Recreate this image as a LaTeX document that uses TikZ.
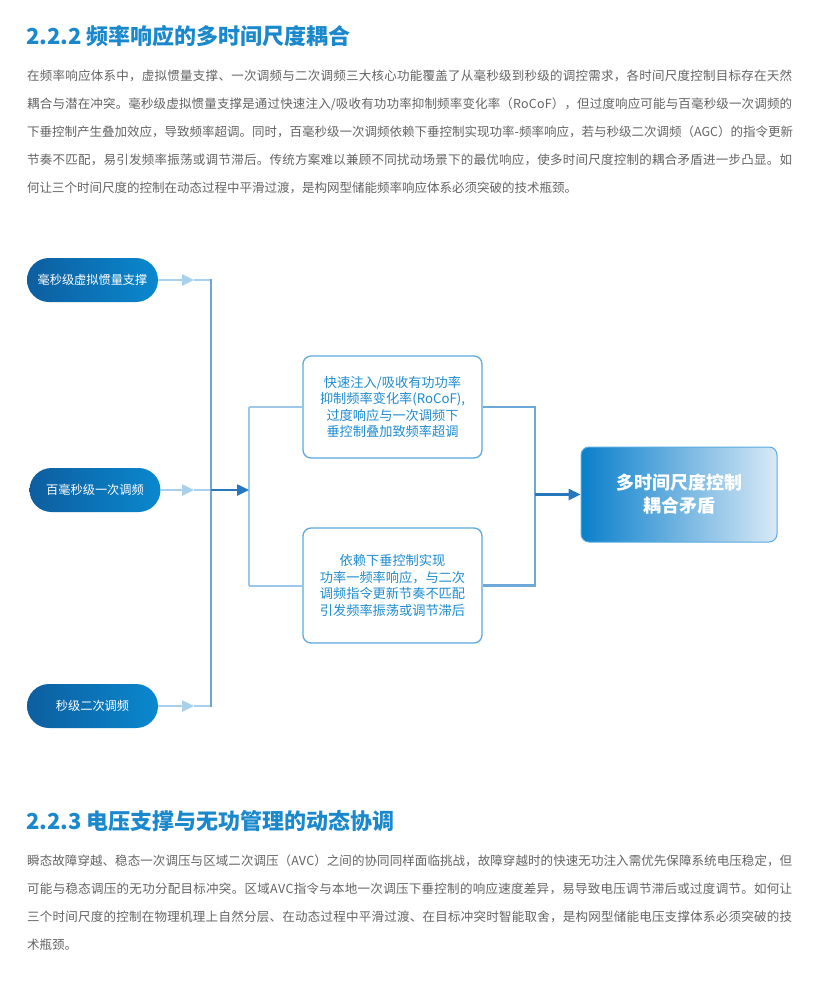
\documentclass[tikz,border=0pt]{standalone}
\usepackage{fontspec}
\setmainfont{Noto Sans CJK SC}
\usetikzlibrary{arrows.meta}
\makeatletter
\newcommand\jline[1]{\hbox to 765pt{\@tfor\jtok:=#1\do{\jtok\hskip 0pt plus 1pt}\unskip}}
\makeatother
\definecolor{headblue}{HTML}{1A88CC}
\definecolor{paragray}{HTML}{636363}
\definecolor{pillL}{HTML}{0D5E9F}
\definecolor{pillR}{HTML}{0A88CF}
\definecolor{boxline}{HTML}{5AAAE0}
\definecolor{boxtext}{HTML}{1F8CD0}
\definecolor{paleline}{HTML}{A9D0EC}
\definecolor{midline}{HTML}{6EA8D8}
\definecolor{darkarrow}{HTML}{2677BD}
\definecolor{lightline}{HTML}{9CC7E8}
\definecolor{bigL}{HTML}{0A7FCB}
\definecolor{bigR}{HTML}{D8E9F6}
\begin{document}
\begin{tikzpicture}[x=1pt,y=-1pt,
  heading/.style={anchor=west,inner sep=0,text=headblue,font=\fontsize{22}{27}\selectfont\bfseries},
  paraline/.style={anchor=west,inner sep=0,text=paragray,font=\fontsize{12.5}{15}\selectfont},
  pill/.style={rectangle,rounded corners=22pt,minimum width=131pt,minimum height=44pt,inner sep=0,
    left color=pillL,right color=pillR,draw=none,text=white,font=\fontsize{12.2}{14}\selectfont},
  infobox/.style={rectangle,rounded corners=8pt,draw=boxline,line width=1.3pt,fill=white,
    minimum width=179pt,inner sep=0,text=boxtext,align=center,font=\fontsize{13.2}{16.5}\selectfont},
  bigbox/.style={rectangle,rounded corners=8pt,draw=boxline,line width=1pt,left color=bigL,right color=bigR,
    minimum width=196pt,minimum height=95pt,inner sep=0,text=white,align=center,font=\fontsize{18}{23}\selectfont\bfseries},
  palearrow/.style={draw=paleline,line width=2.5pt,-{Triangle[length=12pt,width=11pt]}},
  paleseg/.style={draw=paleline,line width=2.5pt},
  midseg/.style={draw=midline,line width=2.5pt},
  lightseg/.style={draw=lightline,line width=2pt},
  darkarr/.style={draw=darkarrow,line width=2.5pt,-{Triangle[length=12pt,width=11pt]}}
]
\useasboundingbox (0,0) rectangle (815,997);

% heading 1 and paragraph
\node[heading] (h1) at (26,36) {2.2.2 频率响应的多时间尺度耦合};
\node[paraline] (a1) at (27,76) {\jline{在频率响应体系中，虚拟惯量支撑、一次调频与二次调频三大核心功能覆盖了从毫秒级到秒级的调控需求，各时间尺度控制目标存在天然}};
\node[paraline] (a2) at (27,104) {\jline{耦合与潜在冲突。毫秒级虚拟惯量支撑是通过快速注入/吸收有功功率抑制频率变化率（RoCoF），但过度响应可能与百毫秒级一次调频的}};
\node[paraline] (a3) at (27,132) {\jline{下垂控制产生叠加效应，导致频率超调。同时，百毫秒级一次调频依赖下垂控制实现功率-频率响应，若与秒级二次调频（AGC）的指令更新}};
\node[paraline] (a4) at (27,160) {\jline{节奏不匹配，易引发频率振荡或调节滞后。传统方案难以兼顾不同扰动场景下的最优响应，使多时间尺度控制的耦合矛盾进一步凸显。如}};
\node[paraline] (a5) at (27,188) {何让三个时间尺度的控制在动态过程中平滑过渡，是构网型储能频率响应体系必须突破的技术瓶颈。};

% diagram nodes
\node[pill] (p1) at (92.5,280) {毫秒级虚拟惯量支撑};
\node[pill] (p2) at (95,490) {百毫秒级一次调频};
\node[pill] (p3) at (92.5,706) {秒级二次调频};
\node[infobox,minimum height=102pt] (b1) at (392.5,407) {快速注入/吸收有功功率\\抑制频率变化率(RoCoF),\\过度响应与一次调频下\\垂控制叠加致频率超调};
\node[infobox,minimum height=115pt] (b2) at (392.5,585.5) {依赖下垂控制实现\\功率一频率响应，与二次\\调频指令更新节奏不匹配\\引发频率振荡或调节滞后};
\node[bigbox] (big) at (679,494.5) {多时间尺度控制\\耦合矛盾};

% junction coordinates
\coordinate (t1) at (194,280);
\coordinate (t2) at (194,490);
\coordinate (t3) at (194,706);
\coordinate (v1) at (211,280);
\coordinate (v2) at (211,490);
\coordinate (v3) at (211,706);
\coordinate (m2) at (249,490);
\coordinate (u1) at (249,407);
\coordinate (u2) at (249,585.5);
\coordinate (r1) at (535,407);
\coordinate (r2) at (535,585.5);
\coordinate (rm) at (535,494.5);

% left side connectors
\draw[palearrow] (p1.east) -- (t1);
\draw[palearrow] (p2.east) -- (t2);
\draw[palearrow] (p3.east) -- (t3);
\draw[paleseg] (t1) -- (v1);
\draw[paleseg] (t2) -- (v2);
\draw[paleseg] (t3) -- (v3);
\draw[midseg,line join=miter] ([xshift=-1.25pt]v1) -- (v1) -- (v3) -- ([xshift=-1.25pt]v3);
\draw[lightseg] (u1) -- (u2);
\draw[darkarr] (v2) -- (m2);
\draw[lightseg] (u1) -- (b1.west);
\draw[lightseg] (u2) -- (b2.west);

% right side connectors
\draw[midseg,line join=miter] (b1.east) -- (r1) -- (r2) -- (b2.east);
\draw[darkarr] (rm) -- (big.west);

% heading 2 and paragraph
\node[heading] (h2) at (26,821) {2.2.3 电压支撑与无功管理的动态协调};
\node[paraline] (c1) at (27,861) {\jline{瞬态故障穿越、稳态一次调压与区域二次调压（AVC）之间的协同同样面临挑战，故障穿越时的快速无功注入需优先保障系统电压稳定，但}};
\node[paraline] (c2) at (27,889) {\jline{可能与稳态调压的无功分配目标冲突。区域AVC指令与本地一次调压下垂控制的响应速度差异，易导致电压调节滞后或过度调节。如何让}};
\node[paraline] (c3) at (27,917) {\jline{三个时间尺度的控制在物理机理上自然分层、在动态过程中平滑过渡、在目标冲突时智能取舍，是构网型储能电压支撑体系必须突破的技}};
\node[paraline] (c4) at (27,945) {术瓶颈。};
\end{tikzpicture}
\end{document}
